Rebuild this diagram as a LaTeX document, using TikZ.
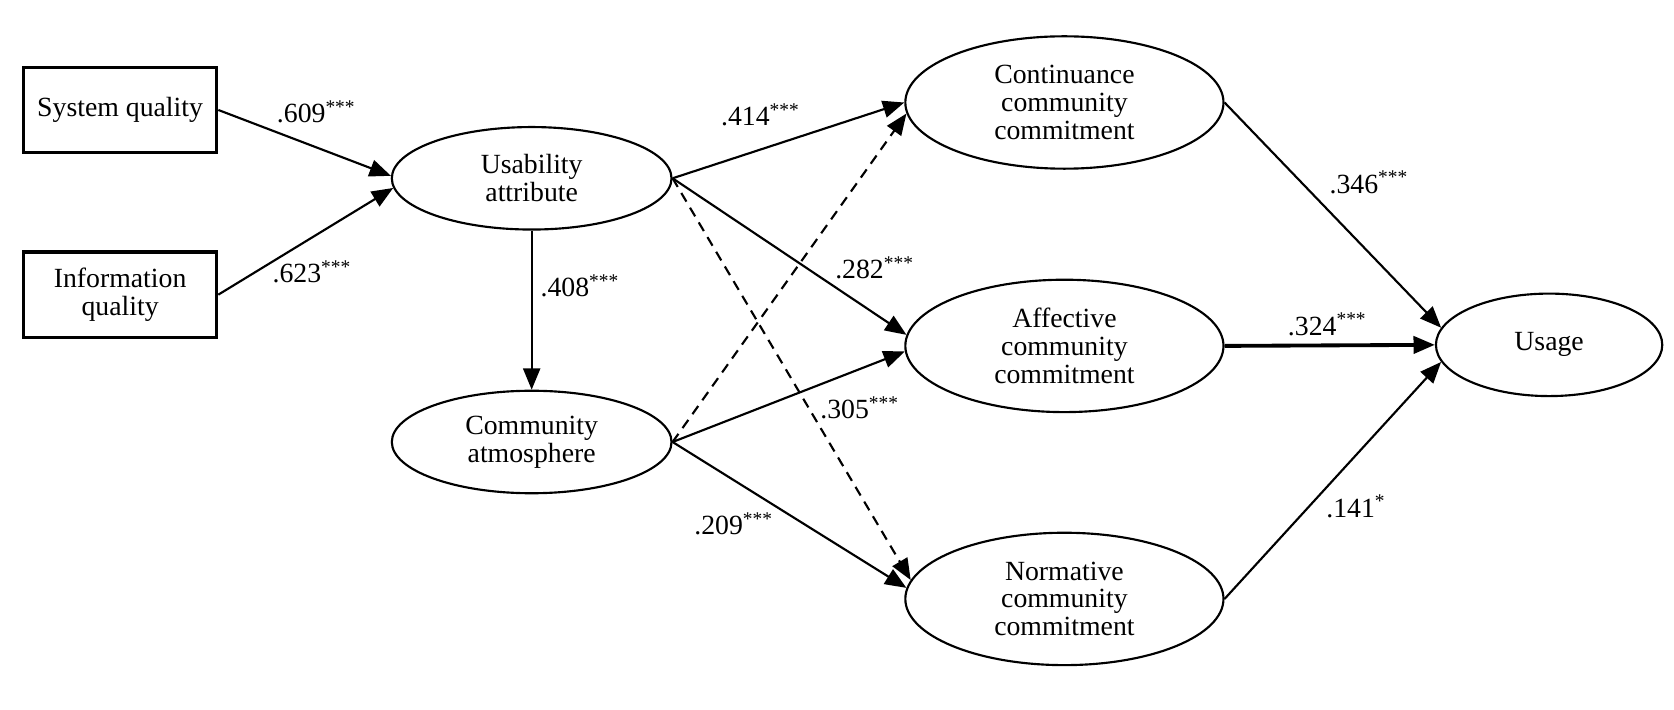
\documentclass[tikz,border=0pt]{standalone}
\usepackage{fontspec}
\setmainfont{Liberation Serif}
\usetikzlibrary{arrows.meta,shapes.geometric}
\begin{document}
\begin{tikzpicture}[x=0.5pt,y=-0.5pt,
  font=\fontsize{13}{13}\selectfont,
  boxnode/.style={draw, line width=1.5pt, rectangle, minimum width=90.5pt, minimum height=40pt, inner sep=0pt, align=center},
  ellnode/.style={draw, line width=1pt, ellipse, inner sep=0pt, align=center, minimum width=131pt, minimum height=48pt},
  bigell/.style={ellnode, minimum width=149pt, minimum height=62pt},
  usell/.style={ellnode, minimum width=106pt, minimum height=48pt},
  lab/.style={anchor=base west, inner sep=0pt},
  conn/.style={line width=1pt, -{Triangle[length=10pt,width=8pt]}},
  thickconn/.style={line width=1.8pt, -{Triangle[length=10pt,width=8pt]}},
  dconn/.style={conn, dash pattern=on 4.7pt off 3.3pt},
]
\useasboundingbox (0,0) rectangle (1568,665);

\node[boxnode] (sq) at (112.5,103) {System quality};
\node[boxnode] (iq) at (112.5,276) {Information\\quality};
\node[ellnode] (ua) at (498,167) {Usability\\attribute};
\node[ellnode] (ca) at (498,414) {Community\\atmosphere};
\node[bigell] (cc) at (997,96) {Continuance\\community\\commitment};
\node[bigell] (ac) at (997,324) {Affective\\community\\commitment};
\node[bigell] (nc) at (997,561) {Normative\\community\\commitment};
\node[usell] (us) at (1451,323) {Usage};

% connectors
\draw[conn] (sq.east) -- (ua.179);
\draw[conn] (iq.east) -- (ua.184);
\draw[conn] (ua.south) -- (ca.north);

\draw[conn] (ua.east) -- (cc.west);
\draw[conn] (ua.east) -- (ac.176);
\draw[dconn] (ua.east) -- (nc.173);

\draw[dconn] (ca.east) -- (cc.184);
\draw[conn] (ca.east) -- (ac.182);
\draw[conn] (ca.east) -- (nc.176);

\draw[conn] (cc.east) -- (us.171);
\draw[thickconn] (ac.east) -- (us.west);
\draw[conn] (nc.east) -- (us.189);

% labels
\node[lab] (l1) at (259,115) {.609\textsuperscript{***}};
\node[lab] (l2) at (255,265) {.623\textsuperscript{***}};
\node[lab] (l3) at (506,278) {.408\textsuperscript{***}};
\node[lab] (l4) at (675,118) {.414\textsuperscript{***}};
\node[lab] (l5) at (782,261) {.282\textsuperscript{***}};
\node[lab] (l6) at (768,392) {.305\textsuperscript{***}};
\node[lab] (l7) at (650,501) {.209\textsuperscript{***}};
\node[lab] (l8) at (1245,181) {.346\textsuperscript{***}};
\node[lab] (l9) at (1206,314) {.324\textsuperscript{***}};
\node[lab] (l10) at (1242,484.5) {.141\textsuperscript{*}};
\end{tikzpicture}
\end{document}
